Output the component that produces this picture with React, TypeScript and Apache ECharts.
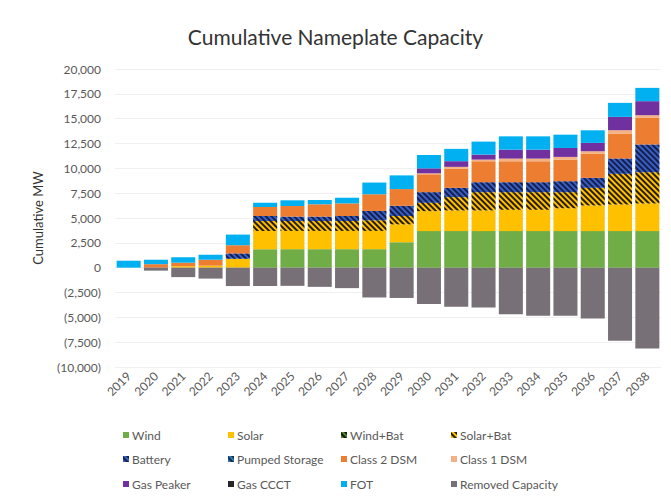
import React, { useEffect, useRef } from "react";
import * as echarts from "echarts";

const years = ["2019","2020","2021","2022","2023","2024","2025","2026","2027","2028","2029","2030","2031","2032","2033","2034","2035","2036","2037","2038"];
const yTicks = { min: -10000, max: 20000, interval: 2500 };

const wind = [0,0,0,0,0,1860,1860,1860,1860,1860,2560,3680,3680,3680,3680,3680,3680,3680,3680,3680];
const solar = [0,0,150,200,900,1840,1840,1840,1840,1840,1800,2010,2080,2080,2150,2150,2300,2580,2680,2780];
const windBat = [0,0,0,0,0,0,0,0,0,0,0,0,0,0,0,0,0,0,0,0];
const solarBat = [0,0,0,0,0,1000,1000,1000,1000,1070,840,840,1340,1840,1770,1770,1620,1780,3090,3150];
const battery = [0,0,0,0,530,500,440,440,500,940,1030,1070,940,1000,1000,1000,1100,1000,1540,2790];
const pumpedStorage = [0,0,0,0,0,0,0,0,0,0,0,0,0,0,0,0,0,0,0,0];
const class2DSM = [0,350,350,600,830,900,1070,1240,1270,1680,1680,1800,1910,2110,2110,2110,2180,2450,2510,2680];
const class1DSM = [0,0,0,0,0,0,0,0,0,0,0,100,200,170,270,270,270,230,340,270];
const gasPeaker = [0,0,0,0,0,0,0,0,0,0,0,500,570,500,900,900,900,840,1340,1410];
const gasCCCT = [0,0,0,0,0,0,0,0,0,0,0,0,0,0,0,0,0,0,0,0];
const fot = [700,450,550,500,1070,440,570,430,570,1180,1380,1340,1240,1310,1340,1340,1340,1270,1410,1340];
const removed = [0,-300,-950,-1100,-1850,-1850,-1830,-1930,-2060,-3000,-3050,-3670,-3940,-4000,-4680,-4850,-4850,-5110,-7360,-8130];

const hatch = (color: string) => ({
  symbol: "rect",
  symbolSize: 1,
  dashArrayX: [1, 0],
  dashArrayY: [2, 2],
  rotation: Math.PI / 4,
  color,
});

const seriesDefs = [
  { name: "Wind", data: wind, color: "#70ad47" },
  { name: "Solar", data: solar, color: "#ffc000" },
  { name: "Wind+Bat", data: windBat, color: "#548235", decal: hatch("rgba(0,0,0,0.8)") },
  { name: "Solar+Bat", data: solarBat, color: "#ffc000", decal: hatch("rgba(0,0,0,0.85)") },
  { name: "Battery", data: battery, color: "#3a5fc0", decal: hatch("rgba(10,20,60,0.85)") },
  { name: "Pumped Storage", data: pumpedStorage, color: "#2e75b6", decal: hatch("rgba(0,0,0,0.6)") },
  { name: "Class 2 DSM", data: class2DSM, color: "#ed7d31" },
  { name: "Class 1 DSM", data: class1DSM, color: "#f4b183" },
  { name: "Gas Peaker", data: gasPeaker, color: "#7030a0" },
  { name: "Gas CCCT", data: gasCCCT, color: "#262626" },
  { name: "FOT", data: fot, color: "#00b0f0" },
  { name: "Removed Capacity", data: removed, color: "#777077" },
];

const legendCols = [123, 228, 341, 451];
const legendRows = [429, 453, 478];

const fmt = (v: number) =>
  v < 0 ? `(${Math.abs(v).toLocaleString("en-US")})` : v.toLocaleString("en-US");

export default function App() {
  const ref = useRef<HTMLDivElement>(null);
  useEffect(() => {
    if (!ref.current) return;
    const chart = echarts.init(ref.current, undefined, { renderer: "svg" });
    const font = "Lato, 'Open Sans', sans-serif";
    chart.setOption({
      animation: false,
      backgroundColor: "#ffffff",
      textStyle: { fontFamily: font },
      title: {
        text: "Cumulative Nameplate Capacity",
        left: "center",
        top: 21,
        textStyle: { fontFamily: font, fontSize: 21, fontWeight: "normal", color: "#333333" },
      },
      legend: seriesDefs.map((s, i) => ({
        data: [s.name],
        left: legendCols[i % 4],
        top: legendRows[Math.floor(i / 4)],
        itemWidth: 6,
        itemHeight: 6,
        icon: "rect",
        selectedMode: false,
        textStyle: { fontFamily: font, fontSize: 12, color: "#595959", padding: [0, 0, 0, -2] },
        padding: 0,
      })),
      grid: { left: 115, right: 10, top: 69, bottom: 133 },
      xAxis: {
        type: "category",
        data: years,
        axisLine: { show: false, onZero: false },
        axisTick: { show: false },
        axisLabel: { rotate: 45, fontSize: 12, color: "#595959", margin: 7, fontFamily: font },
      },
      yAxis: {
        type: "value",
        min: yTicks.min,
        max: yTicks.max,
        interval: yTicks.interval,
        name: "Cumulative MW",
        nameLocation: "middle",
        nameGap: 71,
        nameTextStyle: { fontSize: 13, color: "#333333", fontFamily: font },
        axisLine: { show: false },
        axisTick: { show: false },
        axisLabel: { formatter: fmt, fontSize: 12, color: "#595959", margin: 14, fontFamily: font },
        splitLine: { lineStyle: { color: "#f0f0f0" } },
      },
      series: seriesDefs.map((s) => ({
        name: s.name,
        type: "bar",
        stack: "cap",
        data: s.data,
        barCategoryGap: "12%",
        itemStyle: s.decal ? { color: s.color, decal: s.decal } : { color: s.color },
      })),
    });
    return () => chart.dispose();
  }, []);
  return (
    <div
      ref={ref}
      style={{ position: "fixed", left: 0, top: 0, width: 671, height: 500 }}
    />
  );
}
